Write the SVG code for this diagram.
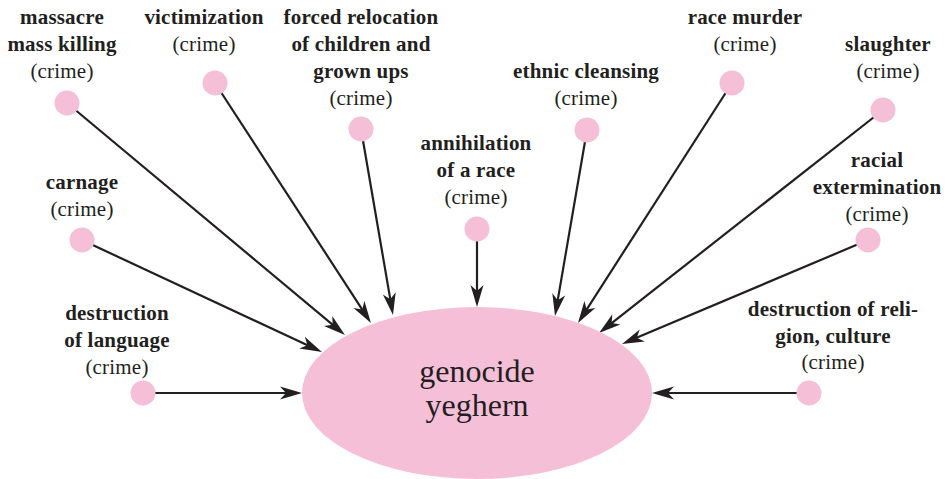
<svg xmlns="http://www.w3.org/2000/svg" width="947" height="479" viewBox="0 0 947 479">
<style>
.t{font-family:"Liberation Serif","Times New Roman",serif;font-size:21px;letter-spacing:0.2px;fill:#231F20;text-anchor:middle}
.b{font-weight:bold}
.dot{fill:#F5BFD8}
.c{stroke:#231F20;stroke-width:2.2;fill:none;marker-end:url(#ah)}
.big{font-family:"Liberation Serif","Times New Roman",serif;font-size:32px;fill:#231F20;text-anchor:middle}
</style>
<defs>
<marker id="ah" markerUnits="userSpaceOnUse" markerWidth="26" markerHeight="16" viewBox="-13 -8 24 16" refX="0" refY="0" orient="auto">
<path d="M10,0 L-12,-6.5 L-6,0 L-12,6.5 Z" fill="#231F20"/>
</marker>
</defs>
<rect width="947" height="479" fill="#ffffff"/>
<g id="connectors">
<line class="c" x1="67" y1="103" x2="337.3" y2="328.6"/>
<line class="c" x1="215" y1="83" x2="365.5" y2="314.6"/>
<line class="c" x1="361" y1="129" x2="391.3" y2="305.1"/>
<line class="c" x1="477" y1="229" x2="477" y2="297"/>
<line class="c" x1="587" y1="130" x2="556.7" y2="306.1"/>
<line class="c" x1="732" y1="83" x2="583.4" y2="314.6"/>
<line class="c" x1="883" y1="110" x2="606.9" y2="326.8"/>
<line class="c" x1="868" y1="240" x2="631.2" y2="340.1"/>
<line class="c" x1="82" y1="240" x2="312.9" y2="347.8"/>
<line class="c" x1="143" y1="393" x2="292" y2="393"/>
<line class="c" x1="809" y1="393" x2="662" y2="393"/>
</g>
<g id="genocide">
<ellipse cx="477" cy="393" rx="175" ry="86" fill="#F5BFD8"/>
<text class="big" x="477" y="382">genocide</text>
<text class="big" x="477" y="416">yeghern</text>
</g>
<g id="massacre">
<circle class="dot" cx="67" cy="103" r="12.5"/>
<text class="t b" x="62" y="24">massacre</text>
<text class="t b" x="62" y="51">mass killing</text>
<text class="t" x="62" y="78">(crime)</text>
</g>
<g id="victimization">
<circle class="dot" cx="215" cy="83" r="12.5"/>
<text class="t b" x="204" y="24">victimization</text>
<text class="t" x="204" y="51">(crime)</text>
</g>
<g id="forced-relocation">
<circle class="dot" cx="361" cy="129" r="12.5"/>
<text class="t b" x="361" y="24">forced relocation</text>
<text class="t b" x="361" y="51">of children and</text>
<text class="t b" x="361" y="78">grown ups</text>
<text class="t" x="361" y="105">(crime)</text>
</g>
<g id="annihilation">
<circle class="dot" cx="477" cy="229" r="12.5"/>
<text class="t b" x="476" y="150">annihilation</text>
<text class="t b" x="476" y="177">of a race</text>
<text class="t" x="476" y="204">(crime)</text>
</g>
<g id="ethnic-cleansing">
<circle class="dot" cx="587" cy="130" r="12.5"/>
<text class="t b" x="586" y="78">ethnic cleansing</text>
<text class="t" x="586" y="105">(crime)</text>
</g>
<g id="race-murder">
<circle class="dot" cx="732" cy="83" r="12.5"/>
<text class="t b" x="745" y="24">race murder</text>
<text class="t" x="745" y="51">(crime)</text>
</g>
<g id="slaughter">
<circle class="dot" cx="883" cy="110" r="12.5"/>
<text class="t b" x="888" y="51">slaughter</text>
<text class="t" x="888" y="78">(crime)</text>
</g>
<g id="racial-extermination">
<circle class="dot" cx="868" cy="240" r="12.5"/>
<text class="t b" x="877" y="167">racial</text>
<text class="t b" x="877" y="194">extermination</text>
<text class="t" x="877" y="221">(crime)</text>
</g>
<g id="carnage">
<circle class="dot" cx="82" cy="240" r="12.5"/>
<text class="t b" x="82" y="189">carnage</text>
<text class="t" x="82" y="216">(crime)</text>
</g>
<g id="destruction-of-language">
<circle class="dot" cx="143" cy="393" r="12.5"/>
<text class="t b" x="117" y="320">destruction</text>
<text class="t b" x="117" y="347">of language</text>
<text class="t" x="117" y="374">(crime)</text>
</g>
<g id="destruction-of-religion">
<circle class="dot" cx="809" cy="393" r="12.5"/>
<text class="t b" x="833" y="316">destruction of reli-</text>
<text class="t b" x="833" y="343">gion, culture</text>
<text class="t" x="833" y="369">(crime)</text>
</g>
</svg>
